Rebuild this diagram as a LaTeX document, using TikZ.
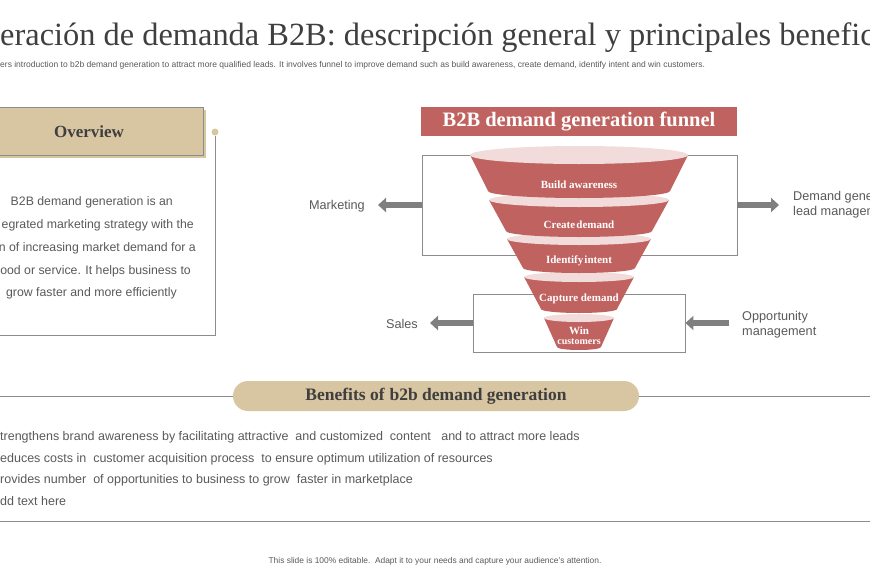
\documentclass[tikz,border=0pt]{standalone}
\usepackage{fontspec}
\setmainfont{Liberation Serif}
\setsansfont{Liberation Sans}
\usetikzlibrary{arrows.meta}
\definecolor{tanc}{HTML}{D8C5A2}
\definecolor{funred}{HTML}{C0625F}
\definecolor{funpink}{HTML}{F2DCDB}
\definecolor{linegray}{HTML}{8C8C8C}
\definecolor{txtgray}{HTML}{595959}
\definecolor{darktxt}{HTML}{3F3F3F}
\definecolor{arrgray}{HTML}{7F7F7F}
\begin{document}
\begin{tikzpicture}[x=1pt,y=-1pt,
  bodytext/.style={font=\sffamily\fontsize{12.3}{14}\selectfont, text=txtgray, inner sep=0pt},
  sidetext/.style={font=\sffamily\fontsize{12.7}{15}\selectfont, text=txtgray, inner sep=0pt, align=left},
  funtext/.style={font=\bfseries\fontsize{11}{12}\selectfont, text=white, inner sep=0pt},
  boxline/.style={draw=linegray, line width=0.9pt},
  bigarrow/.style={draw=arrgray, line width=6pt, -{Triangle[length=8pt,width=14pt]}},
]
\useasboundingbox (0,0) rectangle (870,570);
\clip (0,0) rectangle (870,570);

% title and subtitle
\node[anchor=base west, inner sep=0pt, text=darktxt, font=\fontsize{32.4}{36}\selectfont] (title) at (0,45.5)
  {eración de demanda B2B: descripción general y principales benefic};
\node[anchor=west, inner sep=0pt, text=txtgray, font=\sffamily\fontsize{8.5}{10}\selectfont] (subtitle) at (0,65)
  {ers introduction to b2b demand generation to attract more qualified leads. It involves funnel to improve demand such as build awareness, create demand, identify intent and win customers.};

% overview panel
\fill[tanc] (-5,110) rectangle (206,158);
\path[fill=tanc, draw=linegray, line width=1pt] (-5,107) rectangle (203,155);
\node[font=\bfseries\fontsize{17}{19}\selectfont, text=darktxt] (ovtitle) at (89,132) {Overview};
\node[circle, fill=tanc, inner sep=0pt, minimum size=7pt] (dot) at (215,132) {};
\coordinate (lineend) at (0,335);
\draw[boxline] (dot.south) |- (lineend);
\node[bodytext, anchor=east] (ov1) at (173,202) {B2B demand generation is an};
\node[bodytext, anchor=east] (ov2) at (194,225) {egrated marketing strategy with the};
\node[bodytext, anchor=east] (ov3) at (196,248) {n of increasing market demand for a};
\node[bodytext, anchor=east] (ov4) at (191,271) {ood or service. It helps business to};
\node[bodytext, anchor=east] (ov5) at (177,293) {grow faster and more efficiently};

% funnel title
\node[fill=funred, text=white, font=\bfseries\fontsize{20.5}{22}\selectfont, minimum width=316pt, minimum height=29pt, inner sep=0pt] (ftitle) at (579,121.5) {B2B demand generation funnel};

% boxes
\node[boxline, minimum width=315pt, minimum height=100pt, inner sep=0pt] (topbox) at (579.5,205) {};
\node[boxline, minimum width=212pt, minimum height=58pt, inner sep=0pt] (botbox) at (579,323) {};

% funnel segments (drawn bottom to top)
\foreach \t/\rxt/\ryt/\b/\rxb/\ryb in {318/35/4/347/22/3, 277/55/5/309/38/4, 239/72/6/268/56/5, 200/90/7/231/73/6, 155/109/9/191/91/7}{
  \fill[funred] (579-\rxt,\t) -- (579-\rxb,\b) -- (579+\rxb,\b) -- (579+\rxt,\t) -- cycle;
  \fill[funred] (579,\b) ellipse[x radius=\rxb, y radius=\ryb];
  \fill[funpink] (579,\t) ellipse[x radius=\rxt, y radius=\ryt];
}
\node[funtext] (f1) at (579,185) {Build awareness};
\node[funtext] (f2) at (579,225) {Create\hspace{1.2pt}demand};
\node[funtext] (f3) at (579,261) {Identify\hspace{1.2pt}intent};
\node[funtext] (f4) at (579,299) {Capture demand};
\node[funtext] (f5) at (579,331) {Win};
\node[funtext, font=\bfseries\fontsize{10}{11}\selectfont] (f6) at (579,342) {customers};

% side labels and arrows
\node[sidetext, anchor=east] (mkt) at (365,206) {Marketing};
\node[sidetext, anchor=east] (sales) at (418,324) {Sales};
\node[sidetext, anchor=west] (dgen) at (793,205) {Demand gene\\[0pt]lead managem};
\node[sidetext, anchor=west] (opp) at (742,324.5) {Opportunity\\[0pt]management};
\coordinate (mkttip) at (378,205);
\coordinate (salestip) at (430,323);
\coordinate (dgentip) at (779,205);
\coordinate (opptail) at (729,323);
\draw[bigarrow] (topbox.west) -- (mkttip);
\draw[bigarrow] (topbox.east) -- (dgentip);
\draw[bigarrow] (botbox.west) -- (salestip);
\draw[bigarrow] (opptail) -- (botbox.east);

% benefits
\coordinate (bl) at (0,396);
\coordinate (br) at (870,396);
\draw[boxline] (bl) -- (br);
\node[fill=tanc, rounded corners=15pt, minimum width=406pt, minimum height=30pt, inner sep=0pt, text=darktxt, font=\bfseries\fontsize{17.5}{19}\selectfont] (bene) at (436,396) {Benefits of\hspace{5pt}b2b demand generation};
\node[bodytext, anchor=west, font=\sffamily\fontsize{12.5}{14}\selectfont] (b1) at (0,437) {trengthens brand awareness by facilitating attractive\ \ and customized\ \ content\ \ \ and to attract more leads};
\node[bodytext, anchor=west, font=\sffamily\fontsize{12.5}{14}\selectfont] (b2) at (0,459) {educes costs in\ \ customer acquisition process\ \ to ensure optimum utilization of resources};
\node[bodytext, anchor=west, font=\sffamily\fontsize{12.5}{14}\selectfont] (b3) at (0,480) {rovides number\ \ of opportunities to business to grow\ \ faster in marketplace};
\node[bodytext, anchor=west, font=\sffamily\fontsize{12.5}{14}\selectfont] (b4) at (0,501) {dd text here};
\coordinate (fl) at (0,521);
\coordinate (fr) at (870,521);
\draw[draw=linegray, line width=0.8pt] (fl) -- (fr);

% footer
\node[text=txtgray, font=\sffamily\fontsize{8.4}{10}\selectfont, inner sep=0pt] (foot) at (435,561) {This slide is 100\% editable.\ \ Adapt it to your needs and capture your audience's attention.};
\end{tikzpicture}
\end{document}
